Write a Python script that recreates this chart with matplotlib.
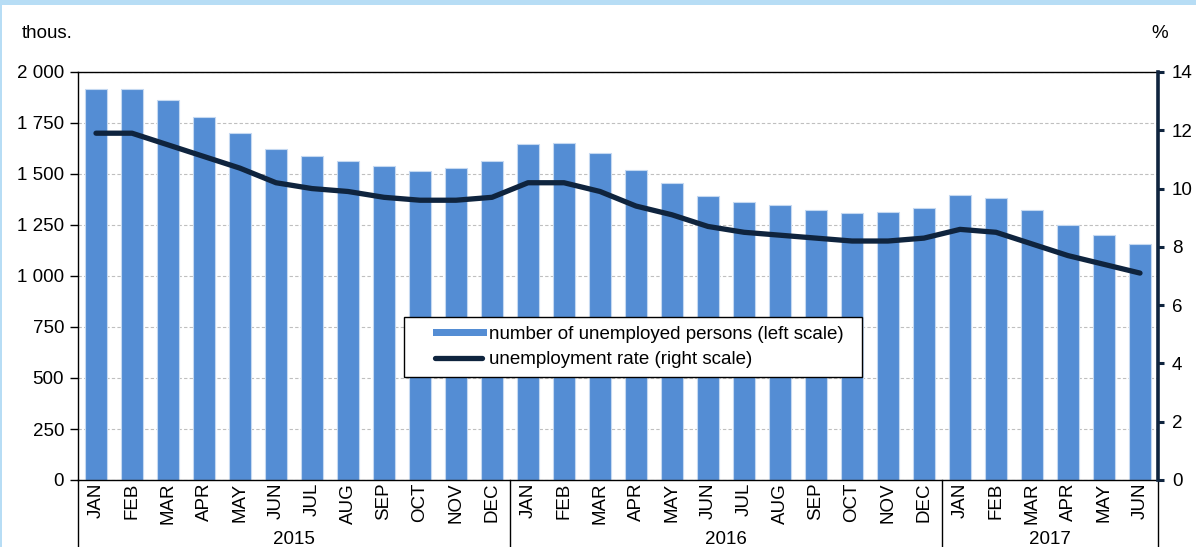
import matplotlib
matplotlib.use("Agg")
import matplotlib.pyplot as plt
import matplotlib.transforms as mtransforms
from matplotlib.patches import Rectangle
from matplotlib.lines import Line2D
from matplotlib.legend_handler import HandlerBase
import numpy as np

plt.rcParams['font.family'] = ['Liberation Sans', 'DejaVu Sans']

months = ["JAN", "FEB", "MAR", "APR", "MAY", "JUN", "JUL", "AUG", "SEP", "OCT", "NOV", "DEC",
          "JAN", "FEB", "MAR", "APR", "MAY", "JUN", "JUL", "AUG", "SEP", "OCT", "NOV", "DEC",
          "JAN", "FEB", "MAR", "APR", "MAY", "JUN"]
years = ["2015", "2016", "2017"]
year_counts = [12, 12, 6]

unemployed = [1918, 1918, 1863, 1781, 1701, 1621, 1587, 1564, 1539, 1515, 1529, 1564,
              1647, 1652, 1603, 1520, 1456, 1392, 1363, 1348, 1324, 1309, 1314, 1333,
              1397, 1382, 1324, 1250, 1201, 1157]
rate = [11.9, 11.9, 11.5, 11.1, 10.7, 10.2, 10.0, 9.9, 9.7, 9.6, 9.6, 9.7,
        10.2, 10.2, 9.9, 9.4, 9.1, 8.7, 8.5, 8.4, 8.3, 8.2, 8.2, 8.3,
        8.6, 8.5, 8.1, 7.7, 7.4, 7.1]

left_ticks = [0, 250, 500, 750, 1000, 1250, 1500, 1750, 2000]
left_labels = ["0", "250", "500", "750", "1 000", "1 250", "1 500", "1 750", "2 000"]
right_ticks = [0, 2, 4, 6, 8, 10, 12, 14]

bar_color = "#548DD4"
line_color = "#0F243E"
FS = 13.5


class OffsetRectHandler(HandlerBase):
    def create_artists(self, legend, orig_handle, xdescent, ydescent, width, height,
                       fontsize, trans):
        off = width * 0.27
        h = 7.0 * 72 / 100
        r = Rectangle((off - xdescent, -ydescent + (height - h) / 2), width - off, h,
                      facecolor=orig_handle.get_facecolor(), edgecolor="none",
                      transform=trans)
        return [r]


class OffsetLineHandler(HandlerBase):
    def create_artists(self, legend, orig_handle, xdescent, ydescent, width, height,
                       fontsize, trans):
        off = width * 0.25
        y = -ydescent + height / 2
        ln = Line2D([off - xdescent + 3, width - xdescent - 3], [y, y],
                    color=orig_handle.get_color(), linewidth=orig_handle.get_linewidth(),
                    solid_capstyle="round", transform=trans)
        return [ln]


fig = plt.figure(figsize=(11.96, 5.47), dpi=100)
fig.patches.append(Rectangle((0, 1 - 5 / 547), 1, 5 / 547, transform=fig.transFigure,
                             facecolor="#B7DDF5", edgecolor="none", zorder=0))
fig.patches.append(Rectangle((0, 0), 2 / 1196, 1, transform=fig.transFigure,
                             facecolor="#B7DDF5", edgecolor="none", zorder=0))

ax = fig.add_axes([78 / 1196, 1 - 480 / 547, 1080 / 1196, 408 / 547])
x = np.arange(len(months))
ax.bar(x, unemployed, width=0.6, color=bar_color, edgecolor="#C5D9F1",
       linewidth=0.8, zorder=2)
ax.set_xlim(-0.5, len(months) - 0.5)
ax.set_ylim(0, 2000)
ax.set_yticks(left_ticks)
ax.set_yticklabels(left_labels, fontsize=FS)
ax.yaxis.grid(True, linestyle=(0, (3, 2)), color="#BFBFBF", linewidth=0.8)
ax.set_axisbelow(True)
ax.tick_params(axis="y", direction="out", length=6, width=1, pad=4)
ax.set_xticks(x)
ax.set_xticklabels(months, rotation=90, fontsize=FS, va="top", ha="center")
ax.tick_params(axis="x", length=0, pad=2)
for s in ["left", "top", "bottom"]:
    ax.spines[s].set_color("black")
    ax.spines[s].set_linewidth(1)
ax.spines["right"].set_visible(False)

ax2 = ax.twinx()
ax2.plot(x, rate, color=line_color, linewidth=3.8, solid_capstyle="round",
         solid_joinstyle="round", zorder=3)
ax2.set_ylim(0, 14)
ax2.set_yticks(right_ticks)
ax2.set_yticklabels([str(t) for t in right_ticks], fontsize=FS)
ax2.tick_params(axis="y", direction="out", length=4, width=2.2, color=line_color, pad=6)
ax2.spines["right"].set_color(line_color)
ax2.spines["right"].set_linewidth(2.6)
for s in ["left", "top", "bottom"]:
    ax2.spines[s].set_visible(False)

trans = mtransforms.blended_transform_factory(ax.transData, ax.transAxes)
start = 0
bounds = [-0.5]
for cnt in year_counts:
    start += cnt
    bounds.append(start - 0.5)
for b in bounds:
    ax.plot([b, b], [0, -0.2], transform=trans, color="black", linewidth=1, clip_on=False)
for i, yr in enumerate(years):
    cx = (bounds[i] + bounds[i + 1]) / 2
    ax.text(cx, -0.147, yr, transform=trans, ha="center", va="center", fontsize=FS)

fig.text(22 / 1196, 1 - 33 / 547, "thous.", fontsize=FS, ha="left", va="center")
fig.text(1160 / 1196, 1 - 33 / 547, "%", fontsize=FS, ha="center", va="center")

bar_handle = Rectangle((0, 0), 1, 1, facecolor=bar_color, edgecolor="none")
line_handle = Line2D([0], [0], color=line_color, linewidth=3.8)
labels = ["number of unemployed persons (left scale)  ", "unemployment rate (right scale)"]
leg = ax2.legend([bar_handle, line_handle], labels, loc="center",
                 bbox_to_anchor=(0.514, 0.326),
                 handler_map={Rectangle: OffsetRectHandler(), Line2D: OffsetLineHandler()},
                 fontsize=FS, frameon=True, fancybox=False, framealpha=1,
                 edgecolor="black", handlelength=3.95, handleheight=0.7,
                 handletextpad=0.1, borderpad=0.45, labelspacing=0.45)
leg.get_frame().set_linewidth(1)

fig.savefig("out.png", dpi=100)
